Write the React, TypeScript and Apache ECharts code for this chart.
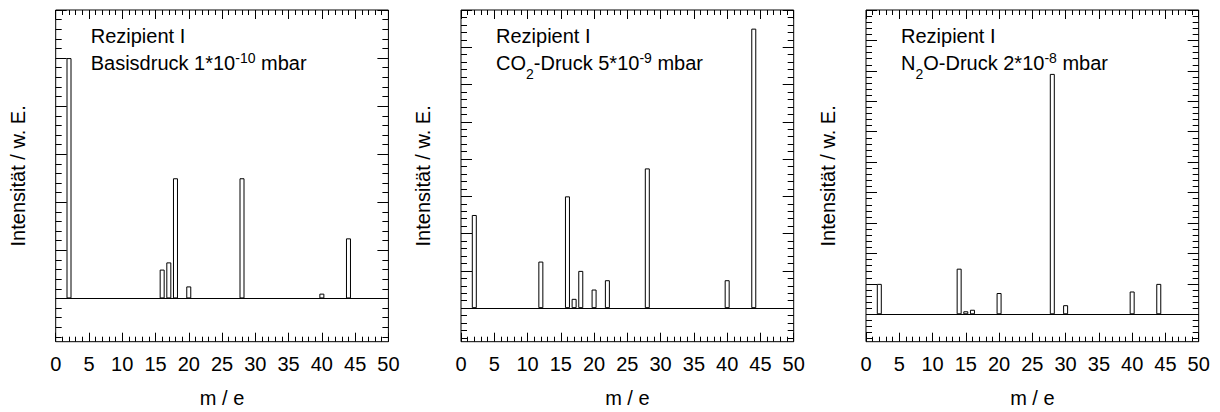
import React, { useEffect, useRef } from "react";
import * as echarts from "echarts";

// ---- data ----
const xTickLabels = ["0", "5", "10", "15", "20", "25", "30", "35", "40", "45", "50"];

const massBase = [2, 16, 17, 18, 20, 28, 40, 44];
const intensBase = [5, 0.6, 0.75, 2.5, 0.25, 2.5, 0.1, 1.25];

const massCO2 = [2, 12, 16, 17, 18, 20, 22, 28, 40, 44];
const intensCO2 = [2.5, 1.25, 3, 0.25, 1, 0.5, 0.75, 3.75, 0.75, 7.5];

const massN2O = [2, 14, 15, 16, 20, 28, 30, 40, 44];
const intensN2O = [1, 1.5, 0.1, 0.15, 0.7, 7.9, 0.3, 0.75, 1];

const yMaxes = [6, 8, 10];
const yMin = -0.9;

const titleLine1 = "Rezipient I";
const titleLine2 = [
  "{n|Basisdruck 1*10}{sup|-10}{n| mbar}",
  "{n|CO}{sub|2}{n|-Druck 5*10}{sup|-9}{n| mbar}",
  "{n|N}{sub|2}{n|O-Druck 2*10}{sup|-8}{n| mbar}",
];

const xName = "m / e";
const yName = "Intensität / w. E.";

// ---- layout ----
const FONT = "Liberation Sans";
const FS = 20;
const gridLefts = [55.7, 461, 866];
const GRID_TOP = 10;
const GRID_W = 332.7;
const GRID_H = 331.7;

function majorTicks(max: number) {
  const a: number[] = [];
  for (let v = 0; v <= max; v++) a.push(v);
  return a;
}
function minorTicks(min: number, max: number) {
  const a: number[] = [];
  for (let k = Math.ceil(min * 5); k <= Math.floor(max * 5); k++) {
    if (k % 5 !== 0) a.push(k / 5);
  }
  return a;
}

export default function App() {
  const ref = useRef<HTMLDivElement>(null);
  useEffect(() => {
    if (!ref.current) return;
    const chart = echarts.init(ref.current, null, { renderer: "svg" });
    const panels = [
      { m: massBase, v: intensBase },
      { m: massCO2, v: intensCO2 },
      { m: massN2O, v: intensN2O },
    ];
    const grid: any[] = [];
    const xAxis: any[] = [];
    const yAxis: any[] = [];
    const series: any[] = [];
    const graphic: any[] = [];

    panels.forEach((p, i) => {
      const yMax = yMaxes[i];
      grid.push({
        left: gridLefts[i],
        top: GRID_TOP,
        width: GRID_W,
        height: GRID_H,
        show: true,
        borderColor: "#000",
        borderWidth: 1,
        backgroundColor: "transparent",
        containLabel: false,
        outerBoundsMode: "none",
      });
      const xBase = {
        type: "value",
        gridIndex: i,
        min: 0,
        max: 50,
        interval: 5,
        axisLine: { show: false, onZero: false },
        splitLine: { show: false },
        axisTick: { show: true, inside: true, length: 9, lineStyle: { color: "#000", width: 1 } },
        minorTick: { show: true, splitNumber: 5, length: 5, lineStyle: { color: "#000", width: 1 } },
        minorSplitLine: { show: false },
      };
      xAxis.push({
        ...xBase,
        position: "bottom",
        axisLabel: {
          show: true,
          margin: 12,
          fontSize: FS,
          fontFamily: FONT,
          color: "#000",
          formatter: (val: number) => xTickLabels[Math.round(val / 5)] ?? "",
        },
        name: xName,
        nameLocation: "middle",
        nameGap: 46,
        nameTextStyle: { fontSize: FS, fontFamily: FONT, color: "#000" },
      });
      xAxis.push({
        ...xBase,
        position: "top",
        axisLabel: { show: false },
      });
      const yBase = {
        type: "value",
        gridIndex: i,
        min: yMin,
        max: yMax,
        axisLine: { show: false },
        splitLine: { show: false },
        axisLabel: { show: false },
      };
      const major = majorTicks(yMax);
      const minor = minorTicks(yMin, yMax);
      ["left", "right"].forEach((pos) => {
        yAxis.push({
          ...yBase,
          position: pos,
          axisTick: { show: true, inside: true, length: 11, customValues: major, lineStyle: { color: "#000", width: 1 } },
          ...(pos === "left"
            ? {
                name: yName,
                nameLocation: "middle",
                nameGap: 28,
                nameRotate: 90,
                nameTextStyle: { fontSize: FS, fontFamily: FONT, color: "#000" },
              }
            : {}),
        });
        yAxis.push({
          ...yBase,
          position: pos,
          axisTick: { show: true, inside: true, length: 6, customValues: minor, lineStyle: { color: "#000", width: 1 } },
        });
      });
      series.push({
        type: "bar",
        xAxisIndex: 2 * i,
        yAxisIndex: 4 * i,
        data: p.m.map((m, k) => [m, p.v[k]]),
        barWidth: 5,
        itemStyle: { color: "#fff", borderColor: "#000", borderWidth: 1 },
        markLine: {
          silent: true,
          symbol: ["none", "none"],
          label: { show: false },
          lineStyle: { color: "#000", width: 1, type: "solid" },
          data: [{ yAxis: 0 }],
        },
      });
      const tx = gridLefts[i] + 35;
      graphic.push({
        type: "text",
        x: tx,
        y: 35.7,
        style: {
          text: titleLine1,
          fontSize: FS,
          fontFamily: FONT,
          fill: "#000",
          align: "left",
          verticalAlign: "middle",
        },
      });
      graphic.push({
        type: "text",
        x: tx,
        y: 63.3,
        style: {
          text: titleLine2[i],
          align: "left",
          verticalAlign: "middle",
          rich: {
            n: { fontSize: FS, fontFamily: FONT, fill: "#000" },
            sup: { fontSize: 14, fontFamily: FONT, fill: "#000", padding: [0, 0, 11, 0] },
            sub: { fontSize: 14, fontFamily: FONT, fill: "#000", padding: [21, 0, 0, 0] },
          },
        },
      });
    });

    chart.setOption({
      animation: false,
      backgroundColor: "#fff",
      grid,
      xAxis,
      yAxis,
      series,
      graphic,
    });
    return () => chart.dispose();
  }, []);
  return (
    <div
      ref={ref}
      style={{ position: "fixed", left: 0, top: 0, width: 1220, height: 412 }}
    />
  );
}
